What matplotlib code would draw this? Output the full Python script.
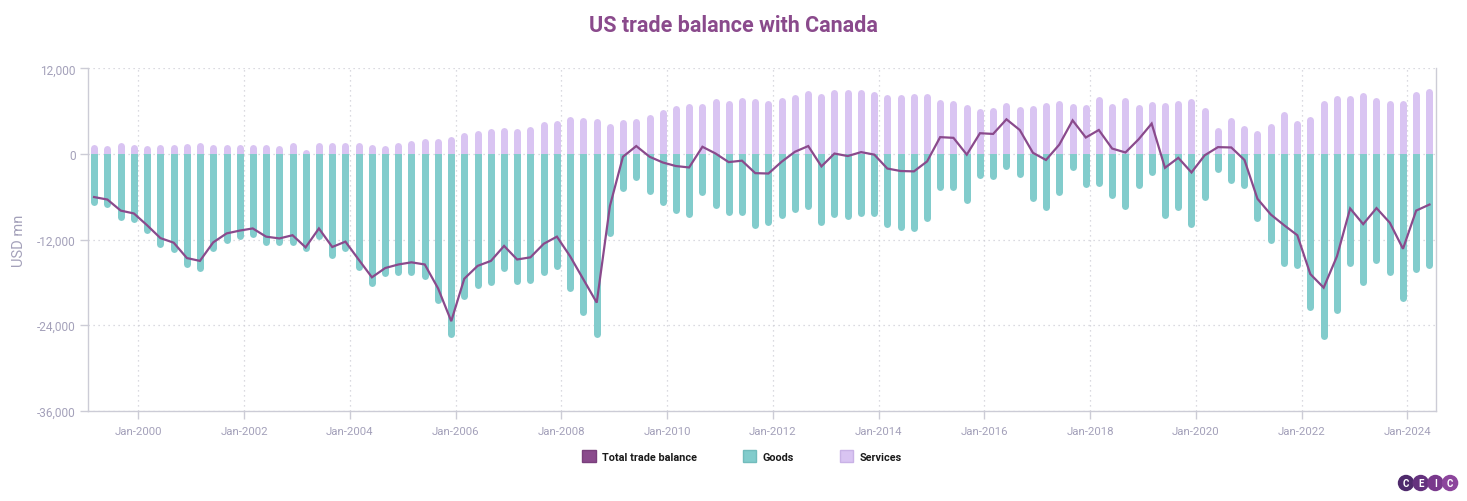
import matplotlib
matplotlib.use("Agg")
import matplotlib.pyplot as plt
import matplotlib.dates as mdates
import matplotlib.transforms as mtransforms
from matplotlib.patches import Rectangle, Circle, Patch
import pandas as pd
import numpy as np

# quarterly points, plotted on the 1st of the last month of each quarter
quarters = pd.date_range("1999-03-01", periods=102, freq="QS-MAR")

goods = [-7200, -7550, -9350, -9650, -11150, -13150, -13850, -15950, -16500, -13700,
         -12550, -12000, -11750, -12850, -12850, -12850, -13750, -12000, -14600, -13700,
         -16350, -18650, -17250, -17050, -17050, -17600, -21000, -25800, -20350, -18850,
         -18450, -16500, -18350, -18200, -17050, -16200, -19300, -22700, -25800, -11550,
         -5250, -3750, -5700, -7200, -8400, -8900, -5900, -7700, -8650, -8700,
         -10450, -10100, -9100, -8250, -7800, -10100, -8900, -9200, -8800, -8800,
         -10350, -10800, -10900, -9500, -5150, -5150, -7000, -3450, -3550, -2200,
         -3350, -6700, -7950, -5850, -2350, -4700, -4550, -6300, -7850, -4850,
         -3050, -9100, -7950, -10350, -6550, -2600, -4150, -4900, -9500, -12550,
         -15850, -16100, -22000, -26050, -22400, -15850, -18450, -15400, -17050, -20700,
         -16650, -16100]

services = [1300, 1150, 1600, 1300, 1150, 1300, 1300, 1450, 1600, 1300,
            1300, 1300, 1300, 1300, 1150, 1600, 650, 1600, 1600, 1600,
            1600, 1300, 1150, 1600, 1900, 2150, 2150, 2450, 3000, 3300,
            3550, 3700, 3550, 3850, 4550, 4700, 5250, 5100, 4950, 4250,
            4850, 4950, 5550, 6250, 6800, 7100, 7100, 7800, 7500, 7900,
            7800, 7500, 7900, 8350, 8900, 8500, 9050, 9050, 9050, 8750,
            8350, 8350, 8500, 8500, 7650, 7500, 6950, 6350, 6500, 7200,
            6650, 6800, 7200, 7500, 7100, 6950, 8050, 7100, 7900, 6950,
            7350, 7200, 7500, 7800, 6500, 3700, 5100, 4000, 3300, 4250,
            5950, 4700, 5250, 7500, 8200, 8200, 8600, 7900, 7500, 7500,
            8750, 9200]

total = [-6050, -6400, -7950, -8350, -10000, -11800, -12450, -14600, -15000, -12400,
         -11150, -10750, -10450, -11600, -11850, -11400, -13100, -10450, -13050, -12300,
         -14800, -17300, -16000, -15500, -15200, -15500, -18850, -23450, -17500, -15700,
         -15000, -12900, -14800, -14500, -12600, -11600, -14350, -17600, -20850, -7300,
         -400, 1100, -400, -1200, -1700, -1900, 1000, 50, -1150, -950,
         -2700, -2750, -1100, 300, 1100, -1750, 50, -300, 250, -100,
         -2050, -2400, -2450, -1050, 2350, 2250, -100, 2900, 2800, 4850,
         3350, 150, -850, 1300, 4700, 2300, 3350, 750, 200, 2050,
         4250, -1950, -550, -2600, -200, 950, 900, -850, -6300, -8500,
         -10000, -11400, -16850, -18750, -14350, -7650, -9850, -7600, -9650, -13300,
         -7950, -7100]

y_ticks = [-36000, -24000, -12000, 0, 12000]
x_tick_years = list(range(2000, 2025, 2))

c_total = "#8a4a8c"
c_goods = "#82cccc"
c_services = "#d9c4f2"
c_axis_text = "#a4a1ba"
c_grid = "#cfcfd6"

plt.rcParams["font.family"] = ["Roboto", "DejaVu Sans"]

W, H = 1467, 502
fig = plt.figure(figsize=(W / 100, H / 100), dpi=100)
ax_l, ax_r, ax_t, ax_b = 88, 1436, 69.3, 411.7
ax = fig.add_axes([ax_l / W, 1 - ax_b / H, (ax_r - ax_l) / W, (ax_b - ax_t) / H])

ymin, ymax = -36000, 12000
ax.set_ylim(ymin, ymax)
ax.set_xlim(mdates.date2num(pd.Timestamp("1999-01-18")), mdates.date2num(pd.Timestamp("2024-07-16")))

x = mdates.date2num(quarters)
g = np.array(goods, dtype=float)
s = np.array(services, dtype=float)

# rounded bar ends: round caps shortened by the cap radius, clipped flat at zero
bar_px = 7.0
lw = bar_px * 72 / 100
r = (bar_px / 2) * (ymax - ymin) / (ax_b - ax_t)
g_end = np.where(g < -r, g + r, 0)
s_end = np.where(s > r, s - r, 0)

blend = mtransforms.blended_transform_factory(ax.transAxes, ax.transData)
lc_g = ax.vlines(x, 0, g_end, colors=c_goods, linewidth=lw, capstyle="round", zorder=2)
lc_g.set_clip_path(Rectangle((0, ymin), 1, -ymin, transform=blend))
lc_s = ax.vlines(x, 0, s_end, colors=c_services, linewidth=lw, capstyle="round", zorder=2)
lc_s.set_clip_path(Rectangle((0, 0), 1, ymax, transform=blend))

ax.plot(x, total, color=c_total, linewidth=1.6, zorder=3, solid_joinstyle="miter")

# axes styling
ax.set_yticks(y_ticks)
ax.set_yticklabels([f"{v:,}" for v in y_ticks])
xt = [mdates.date2num(pd.Timestamp(f"{yr}-01-01")) for yr in x_tick_years]
ax.set_xticks(xt)
ax.set_xticklabels([f"Jan-{yr}" for yr in x_tick_years])
ax.tick_params(axis="both", colors="#ccccd6", labelcolor=c_axis_text, labelsize=8.2, length=6, width=1)
ax.tick_params(axis="x", pad=5)
ax.tick_params(axis="y", pad=3, labelsize=8.6)
ax.grid(True, color=c_grid, linestyle=(0, (1, 3)), linewidth=0.9)
ax.set_axisbelow(True)
for side in ["left", "right", "bottom"]:
    ax.spines[side].set_color("#ccccd6")
    ax.spines[side].set_linewidth(1)
ax.spines["top"].set_visible(False)
ax.set_ylabel("USD mn", color=c_axis_text, fontsize=10.5, labelpad=8)

fig.text(0.5, 1 - 26 / H, "US trade balance with Canada", ha="center", va="center",
         fontsize=15.5, fontweight="bold", color=c_total)

handles = [Patch(facecolor=c_total, edgecolor="#7a3f7c"),
           Patch(facecolor=c_goods, edgecolor="#72bcbc"),
           Patch(facecolor=c_services, edgecolor="#c9b2e6")]
leg = fig.legend(handles, ["Total trade balance", "Goods", "Services"], loc="center",
                 bbox_to_anchor=(742 / W, 1 - 457 / H), ncol=3, frameon=False,
                 prop={"size": 7.8, "weight": "bold"}, handlelength=1.25, handleheight=1.25,
                 handletextpad=0.6, columnspacing=4.2)
for t in leg.get_texts():
    t.set_color("#1a1a1a")

# CEIC badge
logo_cols = ["#4f2a6c", "#65327e", "#79398c", "#8c459c"]
for i, (ch, col) in enumerate(zip("CEIC", logo_cols)):
    cx, cy = (1406 + i * 14.7) / 100, (H - 484) / 100
    fig.patches.append(Circle((cx, cy), 0.082, transform=fig.dpi_scale_trans,
                              facecolor=col, edgecolor="none"))
    fig.text(cx * 100 / W, cy * 100 / H, ch, ha="center", va="center", color="white",
             fontsize=7, fontweight="bold")

fig.savefig("out.png", dpi=100)
